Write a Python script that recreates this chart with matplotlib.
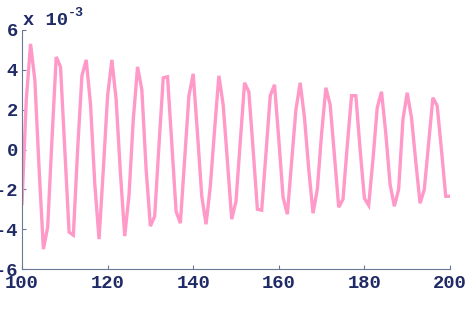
import matplotlib
matplotlib.use("Agg")
import matplotlib.pyplot as plt
import numpy as np

x_vals = list(range(100, 201))
y_vals = [
    -2.7, 2.5, 5.3, 3.5, -1.0, -5.0, -3.9, 0.5, 4.65, 4.15,
    0.0, -4.15, -4.3, 0.0, 3.7, 4.5, 2.3, -1.7, -4.5, -1.0,
    2.7, 4.5, 2.5, -1.2, -4.35, -2.3, 1.5, 4.15, 3.0, -1.0,
    -3.85, -3.35, 0.2, 3.6, 3.65, 0.3, -3.1, -3.7, -0.5, 2.7,
    3.8, 0.8, -2.35, -3.75, -1.85, 1.0, 3.7, 2.25, -0.6, -3.5,
    -2.6, 0.4, 3.35, 2.9, 0.0, -3.0, -3.05, -0.2, 2.7, 3.25,
    0.5, -2.4, -3.25, -0.6, 2.0, 3.35, 1.6, -1.0, -3.2, -2.0,
    0.8, 3.1, 2.25, -0.3, -2.9, -2.5, 0.2, 2.7, 2.7, 0.0,
    -2.45, -2.8, -0.5, 2.1, 2.9, 0.8, -1.75, -2.85, -2.0, 1.5,
    2.85, 1.6, -0.6, -2.7, -2.0, 0.3, 2.6, 2.2, 0.0, -2.35,
    -2.35,
]
x_ticks = [100, 120, 140, 160, 180, 200]
y_ticks = [-6, -4, -2, 0, 2, 4, 6]
scale_label = "x 10"
scale_exp = "-3"

text_color = "#1f2a66"
spine_color = "#6a7896"
line_color = "#ff99c8"

plt.rcParams['axes.unicode_minus'] = False
plt.rcParams['font.family'] = ['Liberation Mono', 'DejaVu Sans Mono']

fig = plt.figure(figsize=(4.75, 3.11), dpi=100)
ax = fig.add_axes([22/475, 1-269/311, (450-22)/475, (269-30)/311])

ax.plot(x_vals, y_vals, color=line_color, lw=2.4, solid_joinstyle='miter')

ax.set_xlim(100, 200)
ax.set_ylim(-6, 6)
ax.set_xticks(x_ticks)
ax.set_yticks(y_ticks)
ax.set_xticklabels([str(t) for t in x_ticks])
ax.set_yticklabels([str(t) for t in y_ticks])

for s in ['top', 'right']:
    ax.spines[s].set_visible(False)
for s in ['left', 'bottom']:
    ax.spines[s].set_color(spine_color)
    ax.spines[s].set_linewidth(0.8)

ax.tick_params(axis='both', direction='in', length=3, width=0.8,
               color=spine_color, labelcolor=text_color, labelsize=13.5)
ax.tick_params(axis='x', pad=4)
ax.tick_params(axis='y', pad=3)
for lab in ax.get_xticklabels() + ax.get_yticklabels():
    lab.set_fontweight('bold')

fig.text(23/475, 1-25/311, scale_label, color=text_color, fontsize=13.5,
         fontweight='bold', ha='left', va='baseline')
fig.text(68/475, 1-16/311, scale_exp, color=text_color, fontsize=9.5,
         fontweight='bold', ha='left', va='baseline')

fig.savefig("out.png", dpi=100)
